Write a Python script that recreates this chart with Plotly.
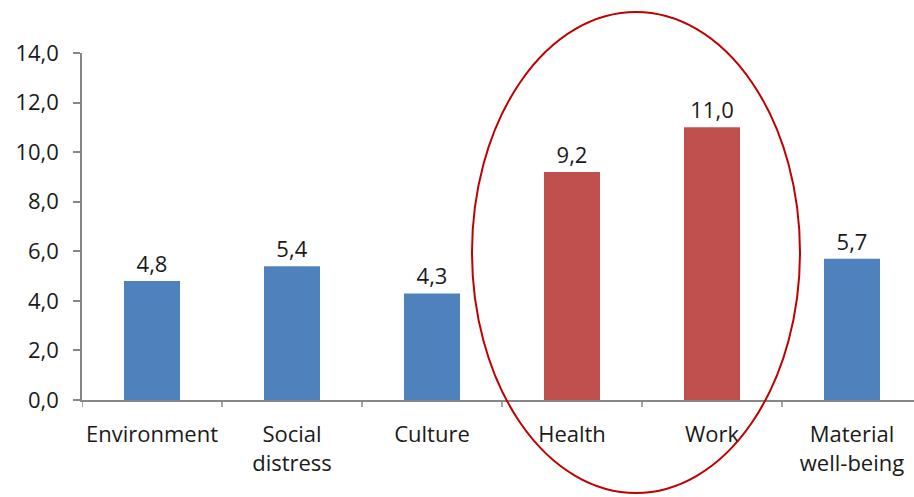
import plotly.graph_objects as go

# Domain scores per well-being dimension
categories = ["Environment", "Social<br>distress", "Culture", "Health", "Work", "Material<br>well-being"]
values = [4.8, 5.4, 4.3, 9.2, 11.0, 5.7]
highlighted = [False, False, False, True, True, False]
y_ticks = [0, 2, 4, 6, 8, 10, 12, 14]

BLUE = "#4F81BD"
RED = "#C0504D"
AXIS = "#868686"
TEXT = "#1a1a1a"
FONT = "Open Sans"
SIZE = 22

colors = [RED if h else BLUE for h in highlighted]

fig = go.Figure(
    go.Bar(
        x=list(range(len(categories))),
        y=values,
        marker=dict(color=colors, line=dict(width=0)),
        texttemplate="%{y:.1f}",
        textposition="outside",
        textfont=dict(family=FONT, size=SIZE, color=TEXT),
        cliponaxis=False,
        width=0.4,
    )
)

fig.update_layout(
    width=914,
    height=497,
    margin=dict(l=82, r=0, t=53, b=97),
    paper_bgcolor="white",
    plot_bgcolor="white",
    separators=",.",
    showlegend=False,
    font=dict(family=FONT, size=SIZE, color=TEXT),
    xaxis=dict(
        range=[-0.5, -0.5 + 832 / 140],
        tickmode="array",
        tickvals=list(range(len(categories))),
        ticktext=categories,
        showgrid=False,
        showline=True,
        linecolor=AXIS,
        linewidth=1.5,
        ticks="",
        ticklabelstandoff=14,
        tickfont=dict(family=FONT, size=SIZE, color=TEXT),
        zeroline=False,
        fixedrange=True,
    ),
    yaxis=dict(
        range=[0, 14],
        tickvals=y_ticks,
        tickformat=".1f",
        showgrid=False,
        showline=True,
        linecolor=AXIS,
        linewidth=1.5,
        ticks="outside",
        ticklen=7,
        tickcolor=AXIS,
        tickwidth=1.5,
        ticklabelstandoff=10,
        tickfont=dict(family=FONT, size=SIZE, color=TEXT),
        zeroline=False,
    ),
)

# Category boundary tick marks below the x axis
for b in range(len(categories) + 1):
    xb = b - 0.5
    fig.add_shape(
        type="line", xref="x", yref="paper",
        x0=xb, x1=xb, y0=0, y1=-7 / 347,
        line=dict(color=AXIS, width=1.5),
    )

# Ellipse around the two highlighted dimensions
fig.add_shape(
    type="circle", xref="paper", yref="paper",
    x0=(472 - 82) / 832, x1=(800 - 82) / 832,
    y0=(400 - 493) / 347, y1=(400 - 12) / 347,
    line=dict(color="#C00000", width=2),
    fillcolor="rgba(0,0,0,0)",
    layer="above",
)

fig.write_html("out.html")
